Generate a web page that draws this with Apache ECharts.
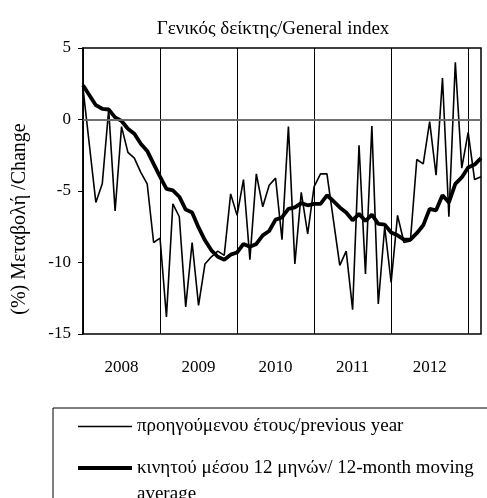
<!DOCTYPE html>
<html>
<head>
<meta charset="utf-8">
<script src="https://cdn.jsdelivr.net/npm/echarts@6/dist/echarts.min.js"></script>
<style>
    html, body { margin: 0; padding: 0; background: #fff; }
    #chart { width: 487px; height: 498px; }
</style>
</head>
<body>
<div id="chart"></div>
<script>
// monthly, Jan 2008 .. Mar 2013
var years = ['2008', '2009', '2010', '2011', '2012', '2013'];
var lastYearMonths = 3;

// % change on previous year
var prevYear = [
    2.2, -1.8, -5.8, -4.5, 0.7, -6.4, -0.5, -2.3, -2.7, -3.7, -4.5, -8.6,
    -8.3, -13.8, -5.9, -6.8, -13.1, -8.6, -13.0, -10.1, -9.6, -9.2, -9.5, -5.2,
    -6.7, -4.2, -9.8, -3.8, -6.1, -4.6, -4.1, -8.4, -0.5, -10.1, -5.1, -8.0,
    -4.7, -3.8, -3.8, -7.0, -10.2, -9.2, -13.3, -1.8, -10.8, -0.45, -12.9, -7.5,
    -11.4, -6.7, -8.6, -8.5, -2.8, -3.1, -0.15, -3.9, 2.9, -6.8, 4.0, -3.4,
    -0.9, -4.2, -4.0
];

// 12-month moving average
var movingAvg = [
    2.4, 1.7, 1.0, 0.75, 0.7, 0.15, -0.1, -0.65, -1.0, -1.7, -2.2, -3.1,
    -4.0, -4.85, -4.95, -5.4, -6.3, -6.5, -7.55, -8.45, -9.15, -9.6, -9.8, -9.45,
    -9.3, -8.7, -8.9, -8.7, -8.1, -7.8, -7.0, -6.85, -6.25, -6.15, -5.85, -6.0,
    -5.9, -5.9, -5.3, -5.7, -6.15, -6.5, -7.05, -6.6, -7.1, -6.65, -7.3, -7.35,
    -7.9, -8.1, -8.4, -8.4, -7.95, -7.4, -6.25, -6.35, -5.3, -5.8, -4.5, -4.05,
    -3.35, -3.15, -2.7
];

var yTicks = { min: -15, max: 5, step: 5 };

var names = ['προηγούμενου έτους/previous year', 'κινητού μέσου 12 μηνών/ 12-month moving average'];

var months = [];
years.forEach(function(y, k) {
    var n = (k == years.length - 1) ? lastYearMonths : 12;
    for (var m = 1; m <= n; m++) {
        months.push(y + '-' + (m < 10 ? '0' + m : m));
    }
});

var serif = 'Liberation Serif, Times New Roman, serif';

var myChart = echarts.init(document.getElementById('chart'));

var option = {
    animation: false,
    backgroundColor: '#fff',
    title: {
        text: 'Γενικός δείκτης/General index',
        left: 268,
        textAlign: 'center',
        top: 15,
        textStyle: { fontFamily: serif, fontSize: 19, fontWeight: 'normal', color: '#000' }
    },
    grid: {
        left: 83,
        top: 48,
        width: 398,
        height: 286,
        show: true,
        borderColor: '#000',
        borderWidth: 1.5,
        backgroundColor: 'transparent'
    },
    xAxis: {
        type: 'category',
        data: months,
        boundaryGap: false,
        axisLine: { show: true, lineStyle: { color: '#000', width: 1.5 } },
        axisTick: { show: false },
        axisLabel: {
            interval: function(i) { return i % 12 === 6; },
            formatter: function(v) { return v.slice(0, 4); },
            margin: 25,
            fontFamily: serif,
            fontSize: 17,
            color: '#000'
        },
        splitLine: {
            show: true,
            interval: function(i) { return i % 12 === 0; },
            lineStyle: { color: '#000', width: 1 }
        }
    },
    yAxis: {
        type: 'value',
        min: yTicks.min,
        max: yTicks.max,
        interval: yTicks.step,
        axisLine: { show: true, lineStyle: { color: '#000', width: 1.5 } },
        axisTick: { show: true, inside: false, length: 5, lineStyle: { color: '#000' } },
        axisLabel: { margin: 12, fontFamily: serif, fontSize: 17, color: '#000' },
        splitLine: { show: false }
    },
    legend: [{
        data: [names[0]],
        icon: 'rect',
        left: 73,
        top: 412,
        itemWidth: 54,
        itemHeight: 1.6,
        textStyle: { fontFamily: serif, fontSize: 19, color: '#000' }
    }, {
        data: [names[1]],
        icon: 'rect',
        left: 73,
        top: 424,
        itemWidth: 54,
        itemHeight: 4,
        formatter: function(n) { return '\n' + n.replace('moving ', 'moving\n'); },
        textStyle: { fontFamily: serif, fontSize: 19, color: '#000', lineHeight: 26 }
    }],
    graphic: [{
        type: 'text',
        x: 20,
        y: 219,
        rotation: Math.PI / 2,
        style: {
            text: '(%) Μεταβολή /Change',
            font: '20px ' + serif,
            fill: '#000',
            align: 'center',
            verticalAlign: 'middle'
        }
    }, {
        type: 'rect',
        shape: { x: 53, y: 408, width: 460, height: 140 },
        style: { fill: 'none', stroke: '#000', lineWidth: 1 }
    }],
    series: [{
        name: names[0],
        type: 'line',
        data: prevYear,
        symbol: 'none',
        lineStyle: { color: '#000', width: 1.6 },
        itemStyle: { color: '#000' },
        markLine: {
            silent: true,
            symbol: 'none',
            label: { show: false },
            lineStyle: { color: '#808080', width: 1.5, type: 'solid' },
            data: [{ yAxis: 0 }]
        },
        z: 3
    }, {
        name: names[1],
        type: 'line',
        data: movingAvg,
        symbol: 'none',
        lineStyle: { color: '#000', width: 3.8 },
        itemStyle: { color: '#000' },
        z: 2
    }]
};

myChart.setOption(option);
</script>
</body>
</html>
